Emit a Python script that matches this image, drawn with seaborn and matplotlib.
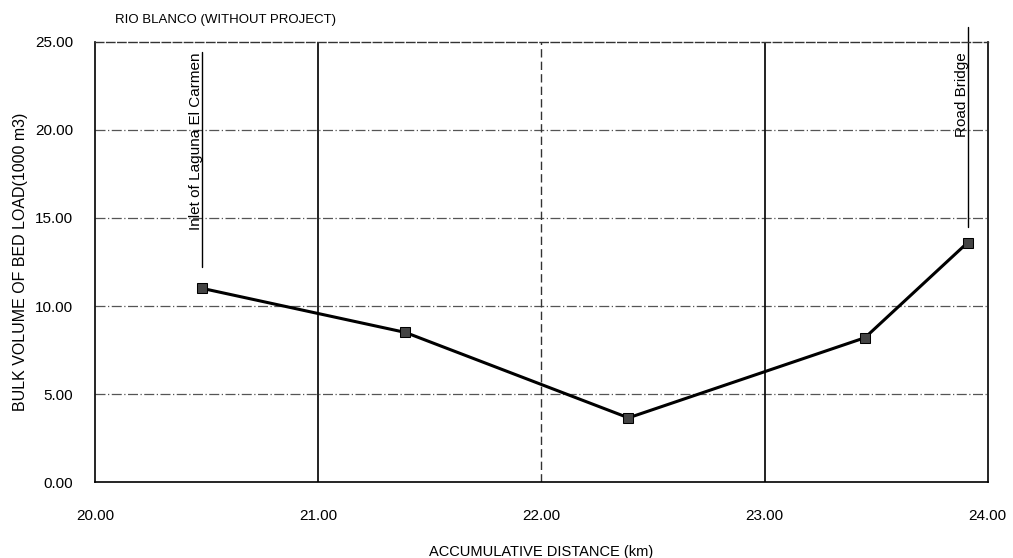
import matplotlib
matplotlib.use("Agg")
import matplotlib.pyplot as plt
import seaborn as sns
import pandas as pd

# Bed-load volume along the river
distance_km = [20.48, 21.39, 22.39, 23.45, 23.91]
bed_load = [11.0, 8.5, 3.65, 8.2, 13.6]

x_ticks = [20.0, 21.0, 22.0, 23.0, 24.0]
y_ticks = [0.0, 5.0, 10.0, 15.0, 20.0, 25.0]

landmark_names = ["Inlet of Laguna El Carmen", "Road Bridge"]
landmark_x = [20.48, 23.91]
landmark_base = [12.2, 14.5]
landmark_top = [24.4, 25.85]
label_base = [14.3, 19.6]

sns.set_style("white")
plt.rcParams["font.family"] = ["Liberation Sans", "DejaVu Sans"]
plt.rcParams["text.color"] = "black"
plt.rcParams["axes.labelcolor"] = "black"
plt.rcParams["xtick.color"] = "black"
plt.rcParams["ytick.color"] = "black"

df = pd.DataFrame({"distance": distance_km, "volume": bed_load})

fig = plt.figure(figsize=(10.13, 5.58), dpi=100)
ax = fig.add_axes([0.094, 0.136, 0.881, 0.789])

# grid
for y in y_ticks[1:-1]:
    ax.axhline(y, color="#555555", lw=0.9, ls=(0, (8, 2, 1, 2)), zorder=1)
vstyles = {21.0: ("#111111", "-", 1.3), 22.0: ("#333333", (0, (6, 3)), 1.0),
           23.0: ("#111111", "-", 1.3)}
for x in x_ticks[1:-1]:
    c, s, w = vstyles[x]
    ax.axvline(x, color=c, ls=s, lw=w, zorder=1)

sns.lineplot(data=df, x="distance", y="volume", ax=ax, color="black",
             lw=2.2, marker="s", markersize=7, markeredgecolor="black",
             markerfacecolor="#444444", zorder=3)

# landmark markers with rotated labels
for name, x, yb, yt, yl in zip(landmark_names, landmark_x, landmark_base,
                               landmark_top, label_base):
    ax.plot([x, x], [yb, yt], color="black", lw=1.0, clip_on=False, zorder=2)
    ax.text(x + 0.005, yl, name, rotation=90, ha="right", va="bottom",
            fontsize=11)

ax.set_xlim(20, 24)
ax.set_ylim(0, 25)
ax.set_xticks(x_ticks)
ax.set_yticks(y_ticks)
ax.set_xticklabels([f"{v:.2f}" for v in x_ticks], fontsize=11)
ax.set_yticklabels([f"{v:.2f}" for v in y_ticks], fontsize=11)
ax.tick_params(axis="x", length=0, pad=19)
ax.tick_params(axis="y", length=0, pad=16)

for side in ["left", "bottom", "right"]:
    ax.spines[side].set_color("black")
    ax.spines[side].set_linewidth(1.2)
ax.spines["top"].set_linestyle((0, (6, 2)))
ax.spines["top"].set_color("#333333")
ax.spines["top"].set_linewidth(1.0)

ax.set_xlabel("ACCUMULATIVE DISTANCE (km)", fontsize=10.5)
ax.set_ylabel("BULK VOLUME OF BED LOAD(1000 m3)", fontsize=11.5)
ax.xaxis.set_label_coords(0.5, -0.143)
ax.yaxis.set_label_coords(-0.075, 0.5)
fig.text(0.114, 0.965, "RIO BLANCO (WITHOUT PROJECT)", fontsize=9.5,
         ha="left", va="center")

fig.savefig("out.png", dpi=100)
